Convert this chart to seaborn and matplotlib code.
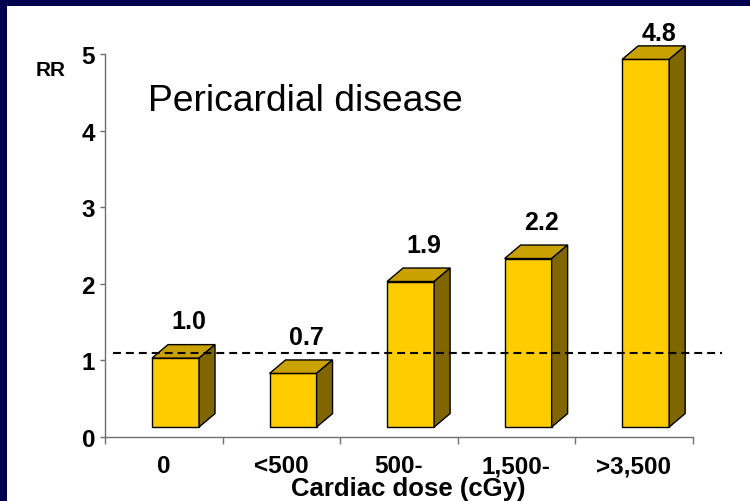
import matplotlib
matplotlib.use("Agg")
import matplotlib.pyplot as plt
from matplotlib.patches import Polygon, Rectangle
from matplotlib.ticker import FixedLocator
import seaborn as sns

# data
dose_groups = ["0", "<500", "500-", "1,500-", ">3,500"]
rr_bar = [0.9, 0.7, 1.9, 2.2, 4.8]          # bar heights as drawn
rr_labels = ["1.0", "0.7", "1.9", "2.2", "4.8"]  # printed values
ref_rr = 1.1

front_col = "#FFCC00"
top_col = "#C9A100"
side_col = "#806600"
navy = "#000050"
axis_col = "#707070"

sns.set_style("white")
plt.rcParams["font.family"] = ["Liberation Sans", "DejaVu Sans"]
plt.rcParams["text.color"] = "black"
plt.rcParams["axes.labelcolor"] = "black"
plt.rcParams["xtick.labelcolor"] = "black"
plt.rcParams["ytick.labelcolor"] = "black"

fig = plt.figure(figsize=(7.5, 5.02), dpi=100)
ax = fig.add_axes([105 / 750, 64 / 502, 587.7 / 750, 383 / 502])

sns.barplot(x=dose_groups, y=rr_bar, width=0.4, color=front_col,
            edgecolor="black", linewidth=1.0, saturation=1, ax=ax, zorder=3)

# fake 3d look: lift the front face a bit, add top and side faces
base = 0.13
dx = 0.136
dy = 0.176
for i, p in enumerate(ax.patches):
    x0 = p.get_x() + 0.1
    w = p.get_width()
    h = p.get_height()
    p.set_x(x0)
    p.set_y(base)
    p.set_clip_on(False)
    top = Polygon([(x0, base + h), (x0 + w, base + h),
                   (x0 + w + dx, base + h + dy), (x0 + dx, base + h + dy)],
                  closed=True, facecolor=top_col, edgecolor="black",
                  linewidth=1.0, zorder=3, clip_on=False)
    side = Polygon([(x0 + w, base), (x0 + w + dx, base + dy),
                    (x0 + w + dx, base + h + dy), (x0 + w, base + h)],
                   closed=True, facecolor=side_col, edgecolor="black",
                   linewidth=1.0, zorder=3, clip_on=False)
    ax.add_patch(top)
    ax.add_patch(side)
    # keep the top label inside the slide
    ly = min(base + h + 0.39, 5.18)
    ax.text(x0 + w / 2 + 0.115, ly, rr_labels[i],
            ha="center", va="baseline", fontsize=18, fontweight="bold")

# reference line
ax.plot([-0.43, 4.75], [ref_rr, ref_rr], color="black", lw=1.5,
        ls=(0, (3.8, 2.4)), zorder=5, clip_on=False)

ax.set_xlim(-0.5, 4.5)
ax.set_ylim(0, 5)
ax.set_yticks([0, 1, 2, 3, 4, 5])
ax.set_yticklabels(["0", "1", "2", "3", "4", "5"], fontsize=17.5, fontweight="bold")
ax.set_xticks(range(len(dose_groups)))
ax.set_xticklabels(dose_groups, fontsize=17.5, fontweight="bold")
ax.xaxis.set_minor_locator(FixedLocator([-0.5, 0.5, 1.5, 2.5, 3.5, 4.5]))
ax.tick_params(axis="x", which="major", length=0, pad=12.3)
ax.tick_params(axis="x", which="minor", direction="out", length=5,
               width=1, color=axis_col, bottom=True)
ax.tick_params(axis="y", direction="out", length=3.6, width=1,
               color=axis_col, pad=3.6, left=True)

for s in ["top", "right"]:
    ax.spines[s].set_visible(False)
for s in ["left", "bottom"]:
    ax.spines[s].set_color(axis_col)
    ax.spines[s].set_linewidth(1)

ax.set_xlabel("Cardiac dose (cGy)", fontsize=18.5, fontweight="bold")
ax.xaxis.set_label_coords(0.5156, -0.103)
ax.set_ylabel("")

ax.text(-0.134, 4.27, "Pericardial disease", fontsize=26.8, va="baseline")
fig.text(51 / 750, 1 - 71 / 502, "RR", fontsize=15, fontweight="bold",
         ha="center", va="center")

# navy slide frame on left and top
fig.patches.append(Rectangle((0, 0), 7 / 750, 1, transform=fig.transFigure,
                             facecolor=navy, edgecolor="none", zorder=10))
fig.patches.append(Rectangle((0, 1 - 7 / 502), 1, 7 / 502, transform=fig.transFigure,
                             facecolor=navy, edgecolor="none", zorder=10))

fig.savefig("out.png", dpi=100)
